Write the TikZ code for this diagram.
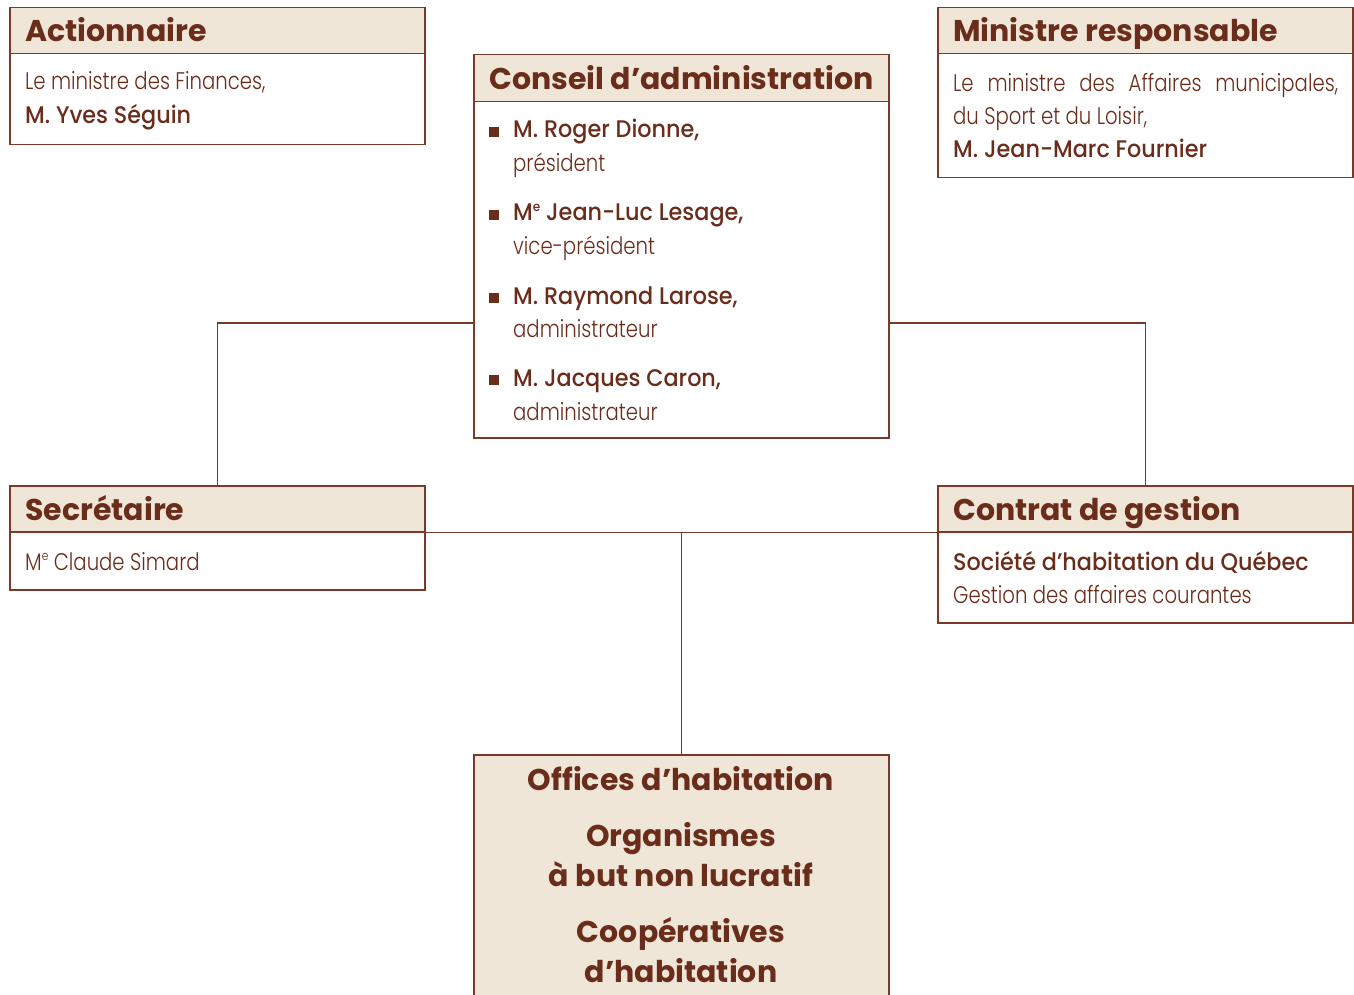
\documentclass[tikz,border=0pt]{standalone}
\usepackage{fontspec}
\setmainfont{Poppins}
\newfontfamily\headfont{Poppins}
\newfontfamily\bodyfont{Poppins Light}[FakeStretch=0.82]
\newfontfamily\namefont{Poppins Medium}[FakeStretch=0.93]
\newcommand{\mesup}{M\raisebox{0.4em}{\fontsize{13}{13}\selectfont e}}
\definecolor{brn}{HTML}{6B2D1B}
\definecolor{lin}{HTML}{7A3A28}
\definecolor{beige}{HTML}{F0E6D7}
\tikzset{
  boxst/.style={draw=lin, line width=1.5pt, fill=white, inner sep=0pt, anchor=north west},
  hband/.style={draw=lin, line width=1.5pt, fill=beige, inner sep=0pt, anchor=north west},
  conn/.style={draw=lin, line width=1.4pt},
  headtxt/.style={anchor=base west, inner sep=0pt, text=brn, font=\headfont\bfseries\fontsize{30}{36}\selectfont},
  bodytxt/.style={anchor=base west, inner sep=0pt, text=brn, font=\bodyfont\fontsize{24}{30}\selectfont},
  nametxt/.style={anchor=base west, inner sep=0pt, text=brn, font=\namefont\fontsize{24}{30}\selectfont},
  ctext/.style={anchor=base, inner sep=0pt, text=brn, font=\headfont\bfseries\fontsize{30}{36}\selectfont},
  bul/.style={fill=brn, inner sep=0pt, minimum size=10pt}
}
\begin{document}
\begin{tikzpicture}[x=1pt,y=-1pt]
\useasboundingbox (0,0) rectangle (1354,995);
\fill[white] (0,0) rectangle (1354,995);
% boxes
\node[boxst, minimum width=415pt, minimum height=137pt] (act) at (9,7) {};
\node[hband, minimum width=415pt, minimum height=46pt] (actH) at (9,7) {};
\node[boxst, minimum width=415pt, minimum height=170pt] (min) at (937,7) {};
\node[hband, minimum width=415pt, minimum height=46pt] (minH) at (937,7) {};
\node[boxst, minimum width=415pt, minimum height=383pt] (cons) at (473,54) {};
\node[hband, minimum width=415pt, minimum height=47pt] (consH) at (473,54) {};
\node[boxst, minimum width=415pt, minimum height=104pt] (sec) at (9,485) {};
\node[hband, minimum width=415pt, minimum height=46pt] (secH) at (9,485) {};
\node[boxst, minimum width=415pt, minimum height=137pt] (ctr) at (937,485) {};
\node[hband, minimum width=415pt, minimum height=46pt] (ctrH) at (937,485) {};
\node[hband, minimum width=415pt, minimum height=260pt] (off) at (473,754) {};
% connectors
\coordinate (y323) at (0,323);
\draw[conn] (sec.north) |- (cons.west |- y323);
\draw[conn] (ctr.north) |- (cons.east |- y323);
\draw[conn] (secH.south east) -- (ctrH.south west);
\draw[conn] (off.north) -- (off.north |- secH.south);
% texts
\node[headtxt] (t1) at (25,42) {Actionnaire};
\node[bodytxt] (t2) at (25,90) {Le ministre des Finances,};
\node[nametxt] (t3) at (25,124) {M. Yves Séguin};
\node[headtxt] (t4) at (953,42) {Ministre responsable};
\node[bodytxt] (t5) at (953,92) {\makebox[385pt][s]{Le ministre des Affaires municipales,}};
\node[bodytxt] (t6) at (953,125) {du Sport et du Loisir,};
\node[nametxt] (t7) at (953,158) {M. Jean-Marc Fournier};
\node[headtxt] (t8) at (489,90) {Conseil d’administration};
\node[bul] (b1) at (494,132) {};
\node[nametxt] (n1) at (513,138) {M. Roger Dionne,};
\node[bodytxt] (r1) at (513,172) {président};
\node[bul] (b2) at (494,215) {};
\node[nametxt] (n2) at (513,221) {\mesup{} Jean-Luc Lesage,};
\node[bodytxt] (r2) at (513,254) {vice-président};
\node[bul] (b3) at (494,298) {};
\node[nametxt] (n3) at (513,304) {M. Raymond Larose,};
\node[bodytxt] (r3) at (513,337) {administrateur};
\node[bul] (b4) at (494,380) {};
\node[nametxt] (n4) at (513,386) {M. Jacques Caron,};
\node[bodytxt] (r4) at (513,420) {administrateur};
\node[headtxt] (t9) at (25,520) {Secrétaire};
\node[bodytxt] (t10) at (25,570) {\mesup{} Claude Simard};
\node[headtxt] (t11) at (953,520) {Contrat de gestion};
\node[nametxt] (t12) at (953,570) {Société d’habitation du Québec};
\node[bodytxt] (t13) at (953,603) {Gestion des affaires courantes};
\node[ctext] (o1) at (681,790) {Offices d’habitation};
\node[ctext] (o2) at (681,846) {Organismes};
\node[ctext] (o3) at (681,886) {à but non lucratif};
\node[ctext] (o4) at (681,942) {Coopératives};
\node[ctext] (o5) at (681,982) {d’habitation};
\end{tikzpicture}
\end{document}
